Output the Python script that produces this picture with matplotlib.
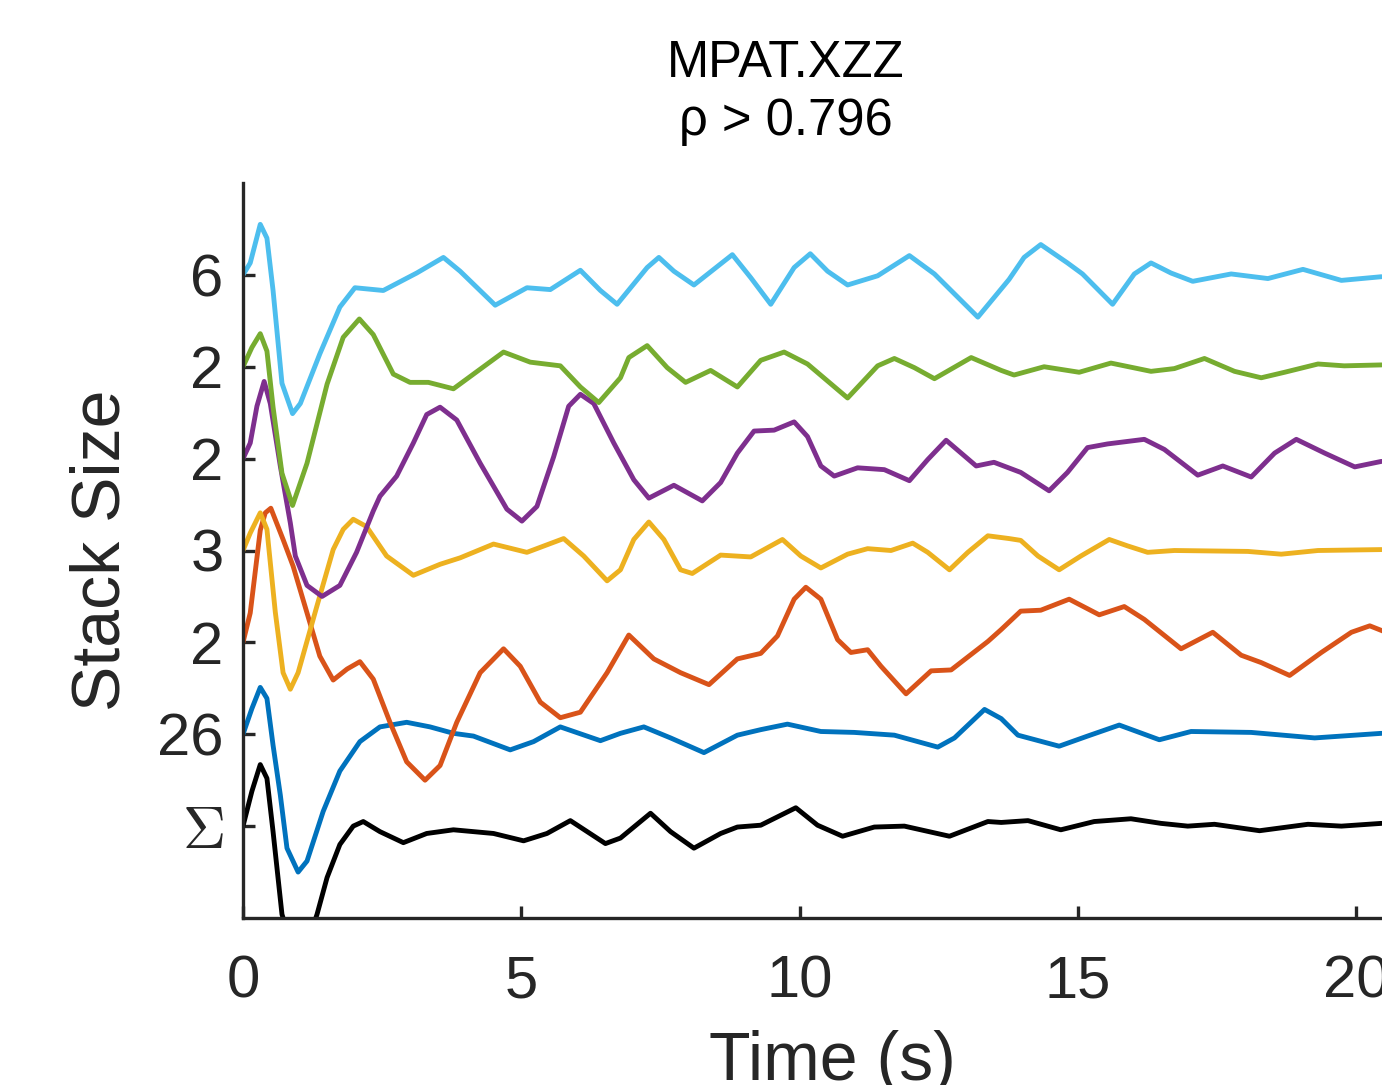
import numpy as np
import matplotlib
matplotlib.use("Agg")
import matplotlib.pyplot as plt

plt.rcParams['font.family'] = ['Liberation Sans', 'DejaVu Sans']
plt.rcParams['mathtext.fontset'] = 'cm'

# Trazas (tiempo en s, valor normalizado respecto a su linea base)
t_sum = [0, 0.16, 0.31, 0.43, 0.54, 0.70, 1.0, 1.33, 1.51, 1.74, 1.98, 2.16, 2.46, 2.88, 3.30, 3.78, 4.50, 5.04,
         5.46, 5.88, 6.51, 6.78, 7.32, 7.68, 8.10, 8.58, 8.88, 9.30, 9.93, 10.32, 10.77, 11.34, 11.88, 12.69,
         13.38, 13.62, 14.10, 14.69, 15.29, 15.95, 16.49, 16.97, 17.45, 18.26, 19.13, 19.73, 20.45]
v_sum = [0, 0.38, 0.67, 0.52, -0.06, -0.96, -1.55, -0.96, -0.56, -0.20, 0.00, 0.05, -0.06, -0.18, -0.08, -0.04,
         -0.08, -0.16, -0.08, 0.06, -0.19, -0.13, 0.14, -0.06, -0.24, -0.08, -0.01, 0.01, 0.20, 0.01, -0.11,
         -0.01, 0.00, -0.11, 0.05, 0.04, 0.06, -0.04, 0.05, 0.08, 0.03, 0.00, 0.02, -0.05, 0.02, 0.00, 0.03]

t_26 = [0, 0.16, 0.31, 0.43, 0.54, 0.67, 0.79, 0.99, 1.15, 1.44, 1.74, 2.10, 2.46, 2.94, 3.36, 3.78, 4.14, 4.80,
        5.22, 5.70, 6.42, 6.78, 7.20, 7.68, 8.28, 8.88, 9.30, 9.78, 10.38, 10.98, 11.70, 12.48, 12.78, 13.32,
        13.62, 13.92, 14.66, 15.17, 15.74, 16.46, 17.03, 18.11, 19.25, 20.45]
v_26 = [0, 0.28, 0.51, 0.39, -0.12, -0.66, -1.24, -1.50, -1.38, -0.84, -0.40, -0.08, 0.08, 0.13, 0.08, 0.01,
        -0.02, -0.17, -0.08, 0.08, -0.07, 0.01, 0.08, -0.04, -0.20, -0.01, 0.05, 0.11, 0.03, 0.02, -0.01, -0.14,
        -0.04, 0.27, 0.17, -0.01, -0.13, -0.02, 0.10, -0.06, 0.03, 0.02, -0.04, 0.01]

t_2a = [0, 0.13, 0.31, 0.40, 0.50, 0.72, 0.90, 1.15, 1.38, 1.62, 1.87, 2.10, 2.34, 2.64, 2.94, 3.27, 3.54, 3.84,
        4.26, 4.68, 4.98, 5.34, 5.70, 6.06, 6.54, 6.93, 7.38, 7.86, 8.37, 8.88, 9.30, 9.60, 9.90, 10.11, 10.38,
        10.68, 10.92, 11.22, 11.46, 11.91, 12.36, 12.72, 13.38, 13.62, 13.97, 14.33, 14.84, 15.38, 15.83, 16.19,
        16.85, 17.42, 17.93, 18.29, 18.80, 19.37, 19.91, 20.24, 20.49]
v_2a = [0, 0.32, 1.22, 1.41, 1.46, 1.12, 0.83, 0.32, -0.15, -0.41, -0.29, -0.21, -0.40, -0.87, -1.30, -1.50,
        -1.34, -0.87, -0.33, -0.07, -0.26, -0.65, -0.82, -0.76, -0.33, 0.08, -0.18, -0.33, -0.46, -0.18, -0.12,
        0.07, 0.47, 0.60, 0.47, 0.03, -0.11, -0.08, -0.26, -0.56, -0.31, -0.30, 0.01, 0.14, 0.34, 0.35, 0.47,
        0.30, 0.39, 0.25, -0.07, 0.11, -0.14, -0.22, -0.36, -0.11, 0.11, 0.18, 0.12]

t_3 = [0, 0.13, 0.31, 0.43, 0.58, 0.72, 0.85, 0.99, 1.33, 1.62, 1.80, 1.98, 2.22, 2.58, 3.06, 3.54, 3.90, 4.50,
       5.10, 5.76, 6.12, 6.54, 6.78, 7.02, 7.29, 7.56, 7.86, 8.07, 8.58, 9.12, 9.69, 10.02, 10.38, 10.86, 11.22,
       11.64, 12.03, 12.30, 12.69, 13.02, 13.38, 13.76, 13.97, 14.28, 14.66, 15.05, 15.56, 15.89, 16.25, 16.73,
       18.05, 18.65, 19.31, 20.45]
v_3 = [0, 0.19, 0.41, 0.23, -0.67, -1.33, -1.51, -1.33, -0.60, 0.01, 0.23, 0.34, 0.26, -0.06, -0.27, -0.15,
       -0.08, 0.07, -0.02, 0.13, -0.06, -0.33, -0.21, 0.12, 0.31, 0.12, -0.21, -0.25, -0.05, -0.07, 0.12, -0.06,
       -0.19, -0.04, 0.02, 0.00, 0.08, -0.02, -0.21, -0.02, 0.16, 0.13, 0.11, -0.06, -0.21, -0.06, 0.12, 0.05,
       -0.02, 0.00, -0.01, -0.04, 0.00, 0.01]

t_2b = [0, 0.13, 0.25, 0.38, 0.49, 0.67, 0.85, 0.94, 1.15, 1.42, 1.74, 2.04, 2.34, 2.46, 2.76, 3.06, 3.30, 3.54,
        3.84, 4.26, 4.74, 5.01, 5.28, 5.58, 5.85, 6.06, 6.30, 6.66, 7.02, 7.29, 7.74, 8.25, 8.58, 8.88, 9.18,
        9.54, 9.90, 10.14, 10.38, 10.62, 11.04, 11.52, 11.97, 12.30, 12.63, 12.90, 13.17, 13.49, 13.97, 14.48,
        14.81, 15.17, 15.53, 16.19, 16.55, 17.15, 17.60, 18.11, 18.53, 18.92, 19.43, 19.97, 20.45]
v_2b = [0, 0.17, 0.57, 0.84, 0.60, -0.08, -0.70, -1.06, -1.38, -1.50, -1.38, -1.02, -0.57, -0.41, -0.19, 0.17,
        0.48, 0.56, 0.42, -0.05, -0.55, -0.68, -0.52, 0.02, 0.57, 0.70, 0.60, 0.17, -0.23, -0.43, -0.29, -0.46,
        -0.26, 0.06, 0.30, 0.31, 0.40, 0.24, -0.08, -0.19, -0.10, -0.12, -0.24, -0.01, 0.20, 0.06, -0.08, -0.04,
        -0.15, -0.35, -0.15, 0.12, 0.16, 0.21, 0.10, -0.18, -0.08, -0.20, 0.06, 0.21, 0.06, -0.09, -0.03]

t_2c = [0, 0.16, 0.31, 0.43, 0.54, 0.70, 0.89, 1.15, 1.51, 1.80, 2.09, 2.34, 2.70, 3.00, 3.33, 3.78, 4.14, 4.68,
        5.16, 5.70, 6.06, 6.39, 6.78, 6.93, 7.26, 7.62, 7.95, 8.40, 8.88, 9.30, 9.72, 10.14, 10.86, 11.40, 11.70,
        12.06, 12.42, 13.08, 13.62, 13.85, 14.39, 15.02, 15.59, 16.31, 16.73, 17.27, 17.81, 18.29, 18.71, 19.31,
        19.78, 20.45]
v_2c = [0, 0.21, 0.36, 0.17, -0.44, -1.16, -1.51, -1.05, -0.19, 0.32, 0.52, 0.35, -0.08, -0.17, -0.17, -0.24,
        -0.08, 0.16, 0.05, 0.01, -0.22, -0.39, -0.12, 0.10, 0.23, -0.01, -0.17, -0.04, -0.22, 0.07, 0.16, 0.03,
        -0.34, 0.01, 0.09, -0.01, -0.13, 0.10, -0.04, -0.09, 0.00, -0.06, 0.04, -0.05, -0.02, 0.09, -0.05, -0.12,
        -0.06, 0.03, 0.01, 0.02]

t_6 = [0, 0.13, 0.31, 0.43, 0.54, 0.70, 0.89, 1.03, 1.38, 1.74, 2.01, 2.52, 3.12, 3.60, 3.90, 4.53, 5.10, 5.52,
       6.06, 6.42, 6.72, 7.26, 7.47, 7.74, 8.10, 8.79, 9.12, 9.48, 9.90, 10.19, 10.50, 10.86, 11.40, 11.97, 12.42,
       13.20, 13.76, 14.03, 14.33, 14.81, 15.08, 15.62, 16.01, 16.31, 16.67, 17.06, 17.75, 18.41, 19.04, 19.73,
       20.45]
v_6 = [0, 0.13, 0.55, 0.40, -0.17, -1.18, -1.51, -1.40, -0.86, -0.35, -0.14, -0.17, 0.02, 0.19, 0.04, -0.33,
       -0.14, -0.16, 0.05, -0.17, -0.32, 0.08, 0.19, 0.04, -0.11, 0.22, -0.03, -0.32, 0.08, 0.23, 0.04, -0.11,
       -0.01, 0.21, 0.01, -0.46, -0.05, 0.19, 0.33, 0.13, 0.01, -0.32, 0.01, 0.13, 0.02, -0.07, 0.01, -0.04, 0.06,
       -0.06, -0.02]

series_t = [t_sum, t_26, t_2a, t_3, t_2b, t_2c, t_6]
series_v = [v_sum, v_26, v_2a, v_3, v_2b, v_2c, v_6]
tick_labels = [r'$\Sigma$', '26', '2', '3', '2', '2', '6']
colors = ['#000000', '#0072BD', '#D95319', '#EDB120', '#7E2F8E', '#77AC30', '#4DBEEE']

fig = plt.figure(figsize=(13.82, 10.85), dpi=100)
ax = fig.add_axes([243 / 1382, 167 / 1085, 1178 / 1382, 735 / 1085])

for k, (tt, vv) in enumerate(zip(series_t, series_v)):
    ax.plot(tt, np.array(vv) + k, color=colors[k], lw=3.5,
            solid_joinstyle='round', solid_capstyle='round')

ax.set_xlim(0, 21.16)
ax.set_ylim(-1, 7)
ax.set_xticks([0, 5, 10, 15, 20])
ax.set_yticks(range(len(tick_labels)))
ax.set_yticklabels(tick_labels)

for s in ['top', 'right']:
    ax.spines[s].set_visible(False)
for s in ['left', 'bottom']:
    ax.spines[s].set_linewidth(2.4)
    ax.spines[s].set_color('#262626')

ax.tick_params(axis='both', direction='in', length=8.5, width=2.4, color='#262626',
               labelcolor='#262626', labelsize=43)
ax.tick_params(axis='x', pad=26)
ax.tick_params(axis='y', pad=14)

ax.set_xlabel('Time (s)', fontsize=49, color='#262626', va='baseline')
ax.xaxis.set_label_coords(0.5, (918 - 1080) / 735)
ax.set_ylabel('Stack Size', fontsize=49, color='#262626', va='baseline')
ax.yaxis.set_label_coords((120 - 243) / 1178, 0.5)

fig.text(786 / 1382, (1085 - 77) / 1085, 'MPAT.XZZ', fontsize=36.5, ha='center', va='baseline')
fig.text(786 / 1382, (1085 - 135) / 1085, 'ρ > 0.796', fontsize=36.5, ha='center', va='baseline')

fig.savefig('out.png', dpi=100)
